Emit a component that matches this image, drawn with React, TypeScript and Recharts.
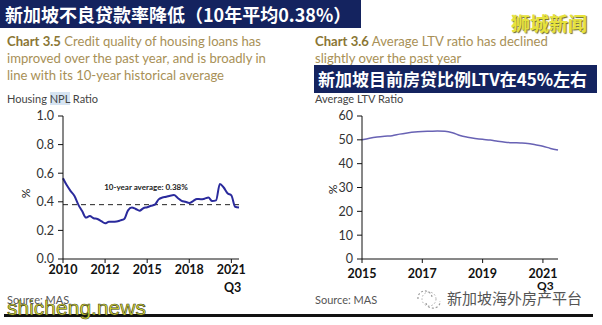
import { LineChart, Line, XAxis, YAxis, ReferenceLine } from 'recharts'

// Chart 3.5 - housing NPL ratio, quarterly from 2010Q1 to 2021Q3 (%)
const nplRatio = [
  0.565, 0.515, 0.475, 0.44, 0.38, 0.335, 0.29, 0.3, 0.285, 0.28,
  0.265, 0.25, 0.26, 0.26, 0.262, 0.27, 0.28, 0.34, 0.36, 0.35,
  0.338, 0.355, 0.362, 0.372, 0.38, 0.417, 0.43, 0.435, 0.443, 0.447,
  0.427, 0.407, 0.4, 0.392, 0.405, 0.42, 0.418, 0.422, 0.43, 0.405,
  0.41, 0.525, 0.5, 0.46, 0.445, 0.365, 0.36,
]
const nplTickPos = [0, 11, 22, 33, 44]
const nplTickLabels = ['2010', '2012', '2015', '2018', '2021']
const nplYTicks = [0, 0.2, 0.4, 0.6, 0.8, 1.0]
const nplAverage = 0.38

// Chart 3.6 - average LTV ratio, quarterly from 2015Q1 to 2021Q3 (%)
const ltvRatio = [
  50.0, 50.7, 51.2, 51.5, 51.7, 52.4, 52.9, 53.3, 53.5, 53.6,
  53.7, 53.6, 53.0, 51.8, 51.1, 50.6, 50.2, 49.9, 49.4, 49.0,
  48.8, 48.7, 48.5, 47.9, 47.3, 46.4, 45.7,
]
const ltvTickPos = [0, 8, 16, 24]
const ltvTickLabels = ['2015', '2017', '2019', '2021']
const ltvYTicks = [0, 10, 20, 30, 40, 50, 60]

const nplData = nplRatio.map((v, i) => ({ q: i, npl: v }))
const ltvData = ltvRatio.map((v, i) => ({ q: i, ltv: v }))

const latin = 'Lato, "Open Sans", sans-serif'
const cjk = '"Noto Sans CJK SC", sans-serif'
const navy = '#14235f'
const titleBold = '#8a7634'
const titleText = '#a89056'

const abs = (left: number, top: number, extra: React.CSSProperties = {}): React.CSSProperties => ({
  position: 'absolute',
  left,
  top,
  whiteSpace: 'nowrap',
  ...extra,
})

const tickStyle = { fontSize: 12.5, fill: '#333', fontFamily: latin }
const xTickStyle = { fontSize: 12.5, fill: '#111', fontFamily: latin, fontWeight: 700 }

export default function App() {
  return (
    <div
      style={{
        position: 'absolute',
        left: 0,
        top: 0,
        width: 602,
        height: 325,
        background: '#fff',
        overflow: 'hidden',
        fontFamily: latin,
      }}
    >
      {/* headline banner */}
      <div
        style={abs(0, 0, {
          width: 361,
          height: 28,
          background: navy,
          color: '#fff',
          fontFamily: cjk,
          fontWeight: 700,
          fontSize: 18,
          lineHeight: '28px',
          paddingLeft: 5,
          boxSizing: 'border-box',
        })}
      >
        新加坡不良贷款率降低（10年平均0.38%）
      </div>

      <div
        style={abs(511, 11, {
          fontFamily: cjk,
          fontWeight: 700,
          fontSize: 19,
          color: '#e6e23c',
          textShadow: '1px 1px 1px #6b6a2a',
          lineHeight: '24px',
        })}
      >
        狮城新闻
      </div>

      {/* left titles */}
      <div style={abs(7, 33, { fontSize: 13.1, lineHeight: '17px', color: titleText })}>
        <span style={{ fontWeight: 700, color: titleBold }}>Chart 3.5</span> Credit quality of housing loans has
        <br />
        improved over the past year, and is broadly in
        <br />
        line with its 10-year historical average
      </div>
      <div style={abs(7, 92, { fontSize: 11, color: '#444', lineHeight: '14px' })}>
        Housing <span style={{ background: '#d6e4f2' }}>NPL</span> Ratio
      </div>

      {/* right titles */}
      <div style={abs(315, 33, { fontSize: 13.1, lineHeight: '17px', color: titleText })}>
        <span style={{ fontWeight: 700, color: titleBold }}>Chart 3.6</span> Average LTV ratio has declined
        <br />
        slightly over the past year
      </div>
      <div
        style={abs(314, 65, {
          width: 283,
          height: 28,
          background: navy,
          color: '#fff',
          fontFamily: cjk,
          fontWeight: 700,
          fontSize: 17,
          lineHeight: '28px',
          paddingLeft: 4,
          boxSizing: 'border-box',
        })}
      >
        新加坡目前房贷比例LTV在45%左右
      </div>
      <div style={abs(315, 92, { fontSize: 11, color: '#444', lineHeight: '14px' })}>Average LTV Ratio</div>

      {/* left chart */}
      <div style={abs(0, 100)}>
        <LineChart width={300} height={190} data={nplData} margin={{ top: 16, right: 61, bottom: 1, left: 0 }}>
          <XAxis
            dataKey="q"
            type="number"
            domain={[0, 46]}
            ticks={nplTickPos}
            tickFormatter={(v) => nplTickLabels[nplTickPos.indexOf(v)]}
            tick={xTickStyle}
            tickSize={4}
            tickMargin={2}
            height={30}
            stroke="#111"
            interval={0}
          />
          <YAxis
            type="number"
            domain={[0, 1]}
            ticks={nplYTicks}
            tickFormatter={(v) => v.toFixed(1)}
            tick={tickStyle}
            tickSize={5}
            tickMargin={4}
            width={63}
            stroke="#111"
            interval={0}
          />
          <ReferenceLine
            y={nplAverage}
            stroke="#222"
            strokeDasharray="5 4"
            label={({ viewBox }: any) => (
              <text
                x={viewBox.x + viewBox.width / 2 - 5}
                y={viewBox.y - 15}
                textAnchor="middle"
                fontSize={8}
                fontWeight={700}
                fill="#222"
                fontFamily={latin}
              >
                10-year average: 0.38%
              </text>
            )}
          />
          <Line
            type="monotone"
            dataKey="npl"
            stroke="#2a2a9c"
            strokeWidth={2}
            dot={false}
            isAnimationActive={false}
          />
        </LineChart>
      </div>
      <div style={abs(21, 186, { fontSize: 12, color: '#222', transform: 'rotate(-90deg)' })}>%</div>
      <div style={abs(224, 280, { fontSize: 12.5, fontWeight: 700, color: '#111' })}>Q3</div>

      {/* right chart */}
      <div style={abs(300, 100)}>
        <LineChart width={300} height={190} data={ltvData} margin={{ top: 16, right: 42, bottom: 1, left: 0 }}>
          <XAxis
            dataKey="q"
            type="number"
            domain={[0, 26]}
            ticks={ltvTickPos}
            tickFormatter={(v) => ltvTickLabels[ltvTickPos.indexOf(v)]}
            tick={xTickStyle}
            tickSize={4}
            tickMargin={6}
            height={30}
            stroke="#111"
            interval={0}
          />
          <YAxis
            type="number"
            domain={[0, 60]}
            ticks={ltvYTicks}
            tick={tickStyle}
            tickSize={5}
            tickMargin={4}
            width={62}
            stroke="#111"
            interval={0}
          />
          <Line
            type="monotone"
            dataKey="ltv"
            stroke="#6862b4"
            strokeWidth={1.5}
            dot={false}
            isAnimationActive={false}
          />
        </LineChart>
      </div>
      <div style={abs(328, 182, { fontSize: 12, color: '#222', transform: 'rotate(-90deg)' })}>%</div>
      <div style={abs(537, 280, { fontSize: 12, fontWeight: 700, color: '#111', lineHeight: '12px' })}>Q3</div>

      {/* footer */}
      <div style={abs(7, 293, { fontSize: 11, color: '#555' })}>Source: MAS</div>
      <div style={abs(315, 293, { fontSize: 11, color: '#555' })}>Source: MAS</div>
      <div style={abs(4, 314, { width: 589, height: 3, background: '#111' })} />
      <div
        style={abs(7, 296, {
          fontFamily: '"Liberation Sans", Arial, sans-serif',
          fontSize: 21,
          lineHeight: '24px',
          color: '#dfe43a',
          WebkitTextStroke: '0.6px #3a3a10',
        })}
      >
        shicheng.news
      </div>
      <svg style={abs(415, 289)} width={28} height={20} viewBox="0 0 28 20">
        <path d="M3 10 A7 7 0 0 1 17 8" fill="none" stroke="#999" strokeWidth={1.2} strokeDasharray="2 2" />
        <path d="M11 14 A7 6 0 0 0 25 12" fill="none" stroke="#999" strokeWidth={1.2} strokeDasharray="2 2" />
        <circle cx={14} cy={10} r={7} fill="none" stroke="#aaa" strokeWidth={1} strokeDasharray="1.5 2" />
      </svg>
      <div style={abs(447, 288, { fontFamily: cjk, fontSize: 15, color: '#555', lineHeight: '20px' })}>
        新加坡海外房产平台
      </div>
    </div>
  )
}
